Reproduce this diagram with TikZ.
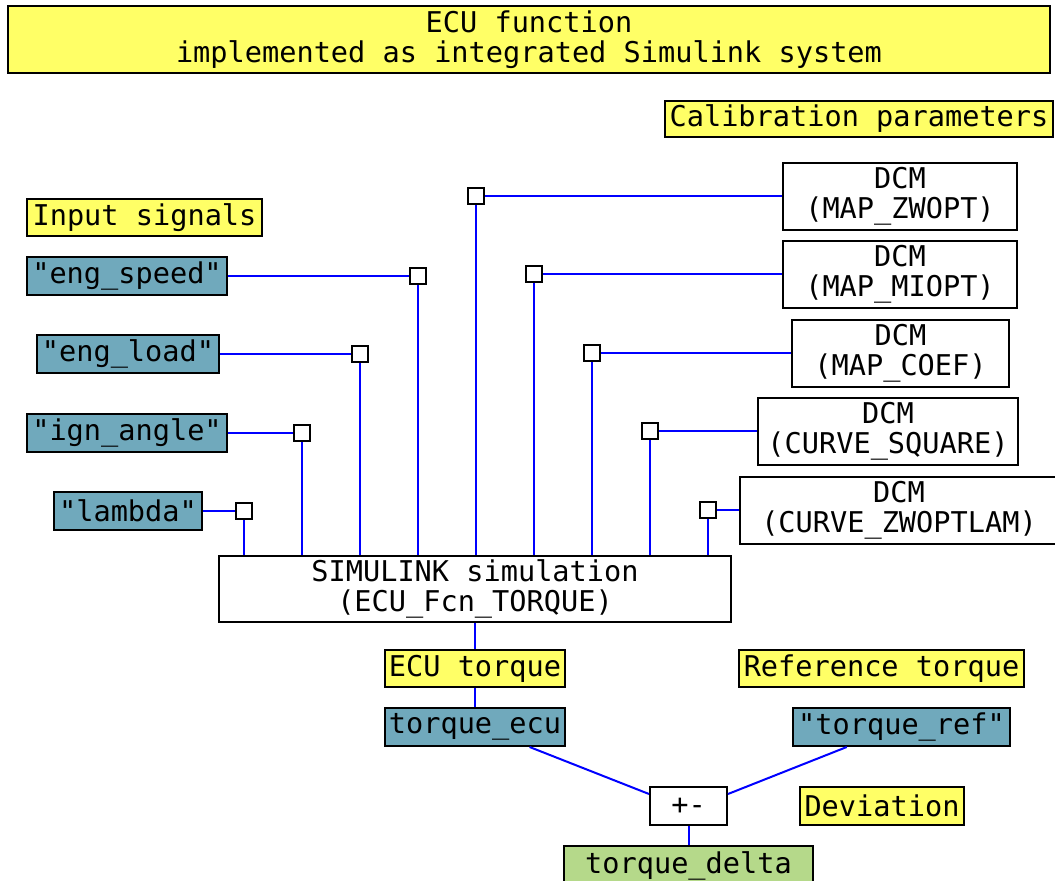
\documentclass[tikz,border=0pt]{standalone}
\usepackage{fontspec}
\setmonofont{DejaVu Sans Mono}
\usepackage{xcolor}
\usepackage{tikz}
\usetikzlibrary{positioning, calc}
\definecolor{noteyellow}{HTML}{FFFF66}
\definecolor{signalteal}{HTML}{70A9BC}
\definecolor{resultgreen}{HTML}{B5D98A}
\definecolor{wireblue}{HTML}{0000FF}

\tikzset{
  plainbox/.style={draw=black, line width=1pt, fill=white, inner sep=0pt, align=center,
                   font=\ttfamily\fontsize{14.3pt}{15pt}\selectfont},
  notebox/.style={plainbox, fill=noteyellow},
  sigbox/.style={plainbox, fill=signalteal},
  resultbox/.style={plainbox, fill=resultgreen},
  junction/.style={draw=black, line width=1pt, fill=white, minimum size=8pt, inner sep=0pt},
  wire/.style={draw=wireblue, line width=1pt}
}

\begin{document}
\begin{tikzpicture}[x=0.5pt, y=-0.5pt]
    \useasboundingbox (0,0) rectangle (1055,881);

    % notes
    \node[notebox, minimum width=521pt, minimum height=33.5pt] (title) at (529,39.5)
      {ECU function\\implemented as integrated Simulink system};
    \node[notebox, minimum width=194pt, minimum height=18pt] (calib) at (859,119) {Calibration parameters};
    \node[notebox, minimum width=117.5pt, minimum height=18.5pt] (inputs) at (144.5,217.5) {Input signals};

    % input signals
    \node[sigbox, minimum width=100pt, minimum height=19pt] (speed) at (127,276) {"eng\_speed"};
    \node[sigbox, minimum width=91pt, minimum height=19pt] (load) at (128,354) {"eng\_load"};
    \node[sigbox, minimum width=100pt, minimum height=19pt] (ign) at (127,433) {"ign\_angle"};
    \node[sigbox, minimum width=74pt, minimum height=19pt] (lambda) at (128,511) {"lambda"};

    % calibration data
    \node[plainbox, minimum width=117pt, minimum height=33.5pt] (zwopt) at (900,196.5) {DCM\\(MAP\_ZWOPT)};
    \node[plainbox, minimum width=117pt, minimum height=33.5pt] (miopt) at (900,274.5) {DCM\\(MAP\_MIOPT)};
    \node[plainbox, minimum width=108.5pt, minimum height=33.5pt] (coef) at (900.5,353.5) {DCM\\(MAP\_COEF)};
    \node[plainbox, minimum width=130pt, minimum height=33.5pt] (square) at (888,431.5) {DCM\\(CURVE\_SQUARE)};
    \node[plainbox, minimum width=159pt, minimum height=33.5pt] (zwoptlam) at (899,510.5) {DCM\\(CURVE\_ZWOPTLAM)};

    % ports of the simulink block
    \node[junction] (jlambda) at (244,511) {};
    \node[junction] (jign) at (302,433) {};
    \node[junction] (jload) at (360,354) {};
    \node[junction] (jspeed) at (418,276) {};
    \node[junction] (jzwopt) at (476,196.5) {};
    \node[junction] (jmiopt) at (534,274.5) {};
    \node[junction] (jcoef) at (592,353.5) {};
    \node[junction] (jsquare) at (650,431.5) {};
    \node[junction] (jzwoptlam) at (708,510.5) {};

    \node[plainbox, minimum width=256pt, minimum height=33pt] (sim) at (475,589)
      {SIMULINK simulation\\(ECU\_Fcn\_TORQUE)};

    % torque comparison
    \node[notebox, minimum width=90pt, minimum height=18.5pt] (ecutorque) at (475,668.5) {ECU torque};
    \node[sigbox, minimum width=90pt, minimum height=19pt] (tecu) at (475,727) {torque\_ecu};
    \node[notebox, minimum width=142.5pt, minimum height=18.5pt] (reftorque) at (881.5,668.5) {Reference torque};
    \node[sigbox, minimum width=108.5pt, minimum height=19pt] (tref) at (901.5,727) {"torque\_ref"};
    \node[plainbox, minimum width=38.5pt, minimum height=19pt] (pm) at (688.5,806) {+-};
    \node[notebox, minimum width=82pt, minimum height=19pt] (deviation) at (882,806) {Deviation};
    \node[resultbox, minimum width=124.5pt, minimum height=20pt] (delta) at (688.5,866) {torque\_delta};

    \foreach \s/\j in {speed/jspeed, load/jload, ign/jign, lambda/jlambda}
      \draw[wire] (\s.east) -- (\j.west);
    \foreach \d/\j in {zwopt/jzwopt, miopt/jmiopt, coef/jcoef, square/jsquare, zwoptlam/jzwoptlam}
      \draw[wire] (\d.west) -- (\j.east);
    \foreach \j in {jlambda, jign, jload, jspeed, jzwopt, jmiopt, jcoef, jsquare, jzwoptlam}
      \draw[wire] (\j.south) -- (\j |- sim.north);

    \draw[wire] (sim.south) -- (ecutorque.north);
    \draw[wire] (ecutorque.south) -- (tecu.north);
    \draw[wire] ($(tecu.south)!0.6!(tecu.south east)$) -- ($(pm.north west)!0.4!(pm.west)$);
    \draw[wire] ($(tref.south)!0.5!(tref.south west)$) -- ($(pm.north east)!0.4!(pm.east)$);
    \draw[wire] (pm.south) -- (delta.north);
  \end{tikzpicture}
\end{document}
